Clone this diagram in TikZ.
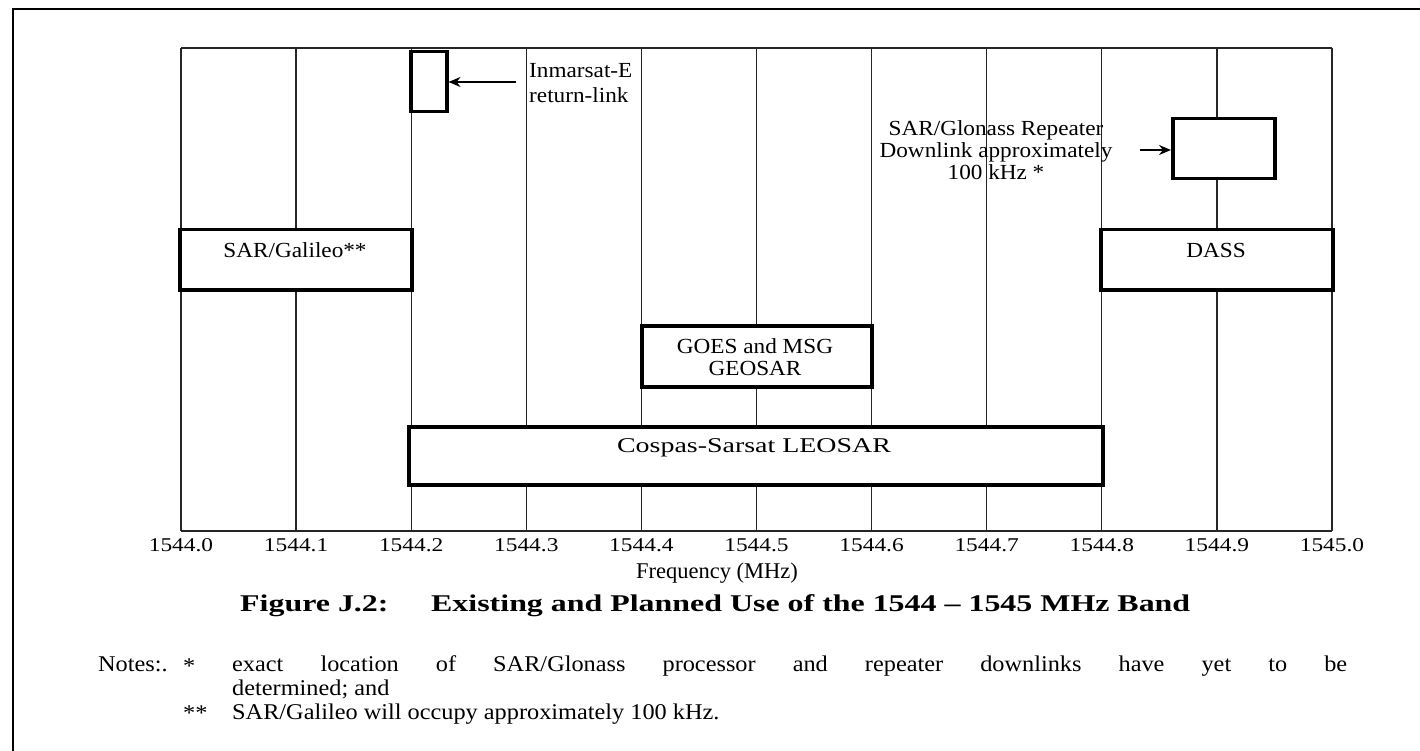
\documentclass[tikz,border=0pt]{standalone}
\usepackage{fontspec}
\setmainfont{Liberation Serif}[FakeStretch=1.08, Ligatures=TeX]
\newfontfamily\plainserif{Liberation Serif}[Ligatures=TeX]
\newfontfamily\widefont{Liberation Serif}[FakeStretch=1.33, Ligatures=TeX]
\newfontfamily\tickfont{Liberation Serif}[FakeStretch=1.2, Ligatures=TeX]
\newfontfamily\capfont{Liberation Serif}[FakeStretch=1.33, Ligatures=TeX]
\usetikzlibrary{arrows.meta}
\tikzset{
  grid line/.style={line width=1.3pt, black!85},
  band/.style={draw=black, fill=white, line width=3.5pt, inner sep=0pt, anchor=north west},
  lbl/.style={font=\fontsize{21.5}{22}\selectfont, inner sep=0pt, align=center},
  tick lbl/.style={font=\tickfont\fontsize{19.5}{20}\selectfont, inner sep=0pt},
  pointer/.style={line width=1.3pt, -{Stealth[length=12pt, width=10pt]}},
  note/.style={font=\fontsize{22.5}{24}\selectfont, inner sep=0pt, anchor=base west},
  captext/.style={font=\capfont\bfseries\fontsize{24}{25}\selectfont, inner sep=0pt, anchor=west}
}
\begin{document}
\begin{tikzpicture}[x=1pt, y=-1pt]
\useasboundingbox (0,0) rectangle (1420,751);
% outer frame
\draw[line width=2pt] (13,751) -- (13,9) -- (1420,9);
% chart frame and grid
\draw[grid line] (181,48) -- (1332,48);
\draw[grid line] (181,531) -- (1332,531);
\foreach \i/\f in {0/1544.0,1/1544.1,2/1544.2,3/1544.3,4/1544.4,5/1544.5,6/1544.6,7/1544.7,8/1544.8,9/1544.9,10/1545.0}{
  \draw[grid line] (181+115.1*\i,48) -- (181+115.1*\i,531);
  \node[tick lbl] (t\i) at (181+115.1*\i,545) {\f};
}
% bands
\node[band, minimum width=36pt, minimum height=60pt] (inm) at (409,50) {};
\node[band, minimum width=102pt, minimum height=60pt] (glo) at (1171,117) {};
\node[band, minimum width=232pt, minimum height=60pt] (gal) at (178,228) {};
\node[band, minimum width=232pt, minimum height=60pt] (dass) at (1099,228) {};
\node[band, minimum width=230pt, minimum height=61pt] (goes) at (640,324) {};
\node[band, minimum width=694pt, minimum height=58pt] (cos) at (407,425) {};
% band labels
\node[lbl] (galt) at (295,250) {SAR/Galileo**};
\node[lbl] (dasst) at (1216,250) {DASS};
\node[lbl] (goest) at (755,357) {GOES and MSG\\GEOSAR};
\node[lbl, font=\widefont\fontsize{21}{22}\selectfont] (cost) at (754,448) {Cospas-Sarsat LEOSAR};
\node[lbl, align=left, anchor=north west, font=\fontsize{21.5}{25}\selectfont] (inmt) at (529,63) {Inmarsat-E\\return-link};
\node[lbl] (glot) at (996,150) {SAR/Glonass Repeater\\Downlink approximately\\100 kHz *};
% pointers
\coordinate (inmsrc) at (516,82);
\coordinate (glosrc) at (1140,150);
\draw[pointer] (inmsrc) -- (inm.east |- inmsrc);
\draw[pointer] (glosrc) -- (glo.west |- glosrc);
% axis title
\node[inner sep=0pt, font=\plainserif\fontsize{22.5}{24}\selectfont] (axis) at (717,573) {Frequency (MHz)};
% caption
\node[captext] (capa) at (240,606) {Figure J.2:};
\node[captext] (capb) at (431,606) {Existing and Planned Use of the 1544 – 1545 MHz Band};
% notes
\node[note] (nlab) at (98,671) {Notes:.};
\node[note] (s1) at (183,673) {*};
\node[note] (n1) at (232,671) {\makebox[1115pt][s]{exact location of SAR/Glonass processor and repeater downlinks have yet to be}};
\node[note] (n1b) at (232,695) {determined; and};
\node[note] (s2) at (183,720) {**};
\node[note] (n2) at (232,719) {SAR/Galileo will occupy approximately 100 kHz.};
\end{tikzpicture}
\end{document}
